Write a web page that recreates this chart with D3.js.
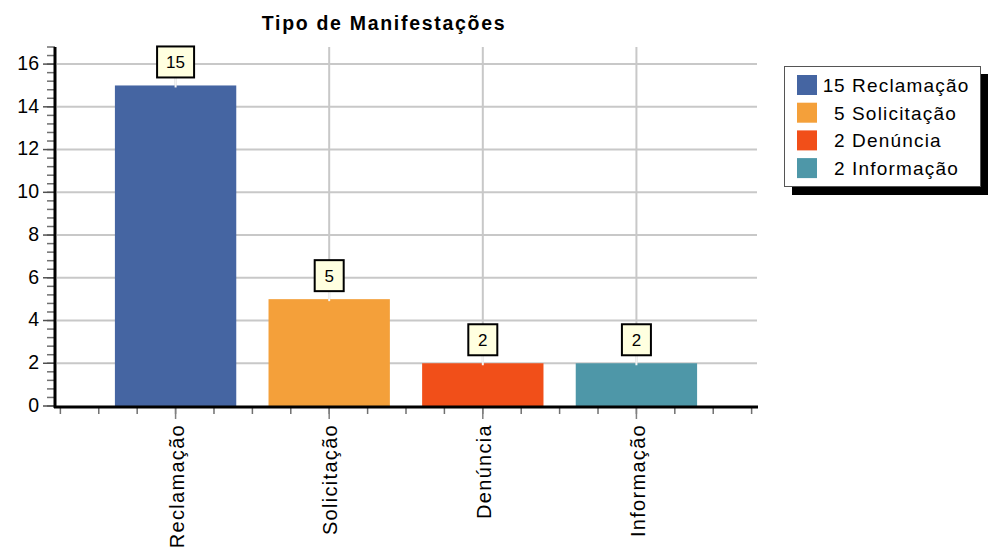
<!DOCTYPE html>
<html><head><meta charset="utf-8">
<script src="https://cdn.jsdelivr.net/npm/d3@7"></script>
<style>body{margin:0;background:#fff}svg{display:block;font-family:"Liberation Sans",Arial,sans-serif}</style>
</head><body><svg id="c" width="1004" height="556"></svg>
<script>
const categories = ["Reclamação","Solicitação","Denúncia","Informação"];
const values = [15,5,2,2];
const colors = ["#4565a2","#f4a03a","#f14f19","#4e97a8"];
const yTicks = [0,2,4,6,8,10,12,14,16];
const title = "Tipo de Manifestações";

const svg = d3.select("#c");
const x = d3.scaleLinear().domain([-0.785,3.785]).range([55,757]);
const y = d3.scaleLinear().domain([0,16.8]).range([406,47]);

svg.append("text").attr("x",384).attr("y",30).attr("text-anchor","middle")
  .attr("font-weight","bold").attr("font-size",19.5).attr("letter-spacing",1.7).text(title);

// grid
const g = svg.append("g");
g.selectAll(".hg").data(yTicks.slice(1)).join("line")
  .attr("x1",57).attr("x2",757).attr("y1",d=>y(d)).attr("y2",d=>y(d))
  .attr("stroke","#c8c8c8").attr("stroke-width",2);
g.selectAll(".vg").data(categories).join("line")
  .attr("x1",(d,i)=>x(i)).attr("x2",(d,i)=>x(i)).attr("y1",y(16.8)).attr("y2",406)
  .attr("stroke","#c8c8c8").attr("stroke-width",2);

// bars
const bw = x(0.395)-x(-0.395);
svg.selectAll(".bar").data(values).join("rect")
  .attr("x",(d,i)=>x(i)-bw/2).attr("width",bw)
  .attr("y",d=>y(d)).attr("height",d=>y(0)-y(d))
  .attr("fill",(d,i)=>colors[i]);

// labels
values.forEach((v,i)=>{
  const cx = x(i), top = y(v);
  const w = String(v).length>1?37:29, h=31;
  svg.append("line").attr("x1",cx).attr("x2",cx).attr("y1",top-8).attr("y2",top+2)
    .attr("stroke","#f4f4f4").attr("stroke-width",2);
  svg.append("rect").attr("x",cx-w/2).attr("y",top-8-h).attr("width",w).attr("height",h)
    .attr("fill","#ffffe0").attr("stroke","#000").attr("stroke-width",2);
  svg.append("text").attr("x",cx).attr("y",top-8-h/2).attr("dy","0.36em")
    .attr("text-anchor","middle").attr("font-size",17).text(v);
});

// y axis
const minorY = d3.range(0,16.81,0.4);
svg.selectAll(".ymin").data(minorY).join("line")
  .attr("x1",47).attr("x2",55).attr("y1",d=>y(d)).attr("y2",d=>y(d))
  .attr("stroke","#707070").attr("stroke-width",1.5);
svg.selectAll(".ymaj").data(yTicks).join("line")
  .attr("x1",43).attr("x2",55).attr("y1",d=>y(d)).attr("y2",d=>y(d))
  .attr("stroke","#505050").attr("stroke-width",1.5);
svg.selectAll(".ylab").data(yTicks).join("text")
  .attr("x",39).attr("y",d=>y(d)).attr("dy","0.3em").attr("text-anchor","end")
  .attr("font-size",19.5).text(d=>d);
svg.append("line").attr("x1",55).attr("x2",55).attr("y1",y(16.8)).attr("y2",408)
  .attr("stroke","#000").attr("stroke-width",3);

// x axis
const minorX = d3.range(-0.75,3.76,0.25);
svg.selectAll(".xmin").data(minorX).join("line")
  .attr("x1",d=>x(d)).attr("x2",d=>x(d)).attr("y1",408).attr("y2",414)
  .attr("stroke","#707070").attr("stroke-width",1.5);
svg.selectAll(".xmaj").data(categories).join("line")
  .attr("x1",(d,i)=>x(i)).attr("x2",(d,i)=>x(i)).attr("y1",408).attr("y2",419)
  .attr("stroke","#808080").attr("stroke-width",1.5);
svg.append("line").attr("x1",54).attr("x2",758).attr("y1",407).attr("y2",407)
  .attr("stroke","#000").attr("stroke-width",3);
svg.selectAll(".xlab").data(categories).join("text")
  .attr("transform",(d,i)=>`translate(${x(i)+1},424) rotate(-90)`)
  .attr("dy","0.36em").attr("text-anchor","end").attr("font-size",20)
  .attr("letter-spacing",1.3).text(d=>d);

// legend
const lg = svg.append("g");
lg.append("rect").attr("x",792).attr("y",74).attr("width",196).attr("height",121).attr("fill","#000");
lg.append("rect").attr("x",784.5).attr("y",66.5).attr("width",196).attr("height",120)
  .attr("fill","#fff").attr("stroke","#555").attr("stroke-width",1);
categories.forEach((c,i)=>{
  const yy = 75 + i*27.7;
  lg.append("rect").attr("x",797).attr("y",yy).attr("width",20).attr("height",20).attr("fill",colors[i]);
  lg.append("text").attr("x",845).attr("y",yy+10).attr("dy","0.36em").attr("text-anchor","end")
    .attr("font-size",19).attr("letter-spacing",0.5).text(values[i]);
  lg.append("text").attr("x",852).attr("y",yy+10).attr("dy","0.36em")
    .attr("font-size",19).attr("letter-spacing",1.2).text(c);
});
</script></body></html>
